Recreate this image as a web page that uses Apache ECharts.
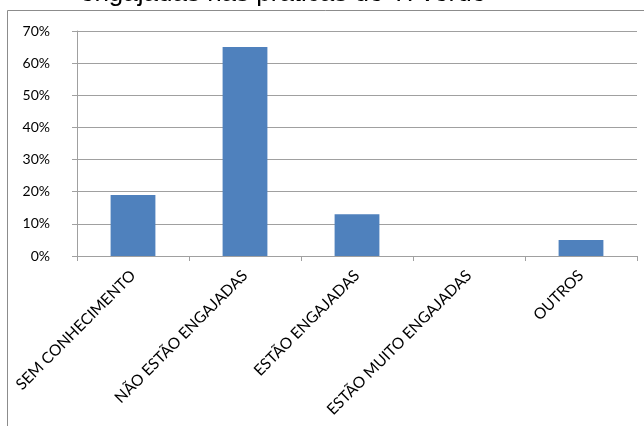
<!DOCTYPE html>
<html>
<head>
<meta charset="utf-8">
<script src="https://cdn.jsdelivr.net/npm/echarts@6/dist/echarts.min.js"></script>
<style>
html,body{margin:0;padding:0;background:#fff;}
#c{width:644px;height:426px;}
</style>
</head>
<body>
<div id="c"></div>
<script>
const categories = ["SEM CONHECIMENTO", "NÃO ESTÃO ENGAJADAS", "ESTÃO ENGAJADAS", "ESTÃO MUITO ENGAJADAS", "OUTROS"];
const values = [19, 65, 13, 0, 5];
const yTicks = { min: 0, max: 70, interval: 10 };
const titleText = "engajadas nas práticas de TI verde";

const chart = echarts.init(document.getElementById('c'), null, { renderer: 'canvas' });
chart.setOption({
  animation: false,
  backgroundColor: '#fff',
  grid: { left: 77, right: 7, top: 31, bottom: 170, containLabel: false },
  graphic: [
    { type: 'line', shape: { x1: 7.5, y1: 10.5, x2: 644, y2: 10.5 }, style: { stroke: '#8c8c8c', lineWidth: 1 } },
    { type: 'line', shape: { x1: 7.5, y1: 10.5, x2: 7.5, y2: 426 }, style: { stroke: '#8c8c8c', lineWidth: 1 } },
    { type: 'text', x: 283, y: 7, style: { text: titleText, fontFamily: 'Liberation Sans, Arial', fontSize: 26, fill: '#000', textAlign: 'center', textVerticalAlign: 'bottom' } }
  ],
  xAxis: {
    type: 'category',
    data: categories,
    axisLine: { lineStyle: { color: '#a0a0a0', width: 1 } },
    axisTick: { show: true, length: 5, lineStyle: { color: '#a0a0a0' } },
    axisLabel: { interval: 0, rotate: 45, margin: 17, fontFamily: 'Lato', fontSize: 15.5, color: '#000' }
  },
  yAxis: {
    type: 'value',
    min: yTicks.min, max: yTicks.max, interval: yTicks.interval,
    axisLine: { show: true, lineStyle: { color: '#a0a0a0', width: 1 } },
    axisTick: { show: true, length: 5, lineStyle: { color: '#a0a0a0' } },
    splitLine: { show: true, lineStyle: { color: '#a0a0a0', width: 1 } },
    axisLabel: { formatter: '{value}%', margin: 27, fontFamily: 'Lato', fontSize: 14, color: '#000' }
  },
  series: [{
    type: 'bar',
    data: values,
    barCategoryGap: '60%',
    itemStyle: { color: '#4F81BD' }
  }]
});
</script>
</body>
</html>
